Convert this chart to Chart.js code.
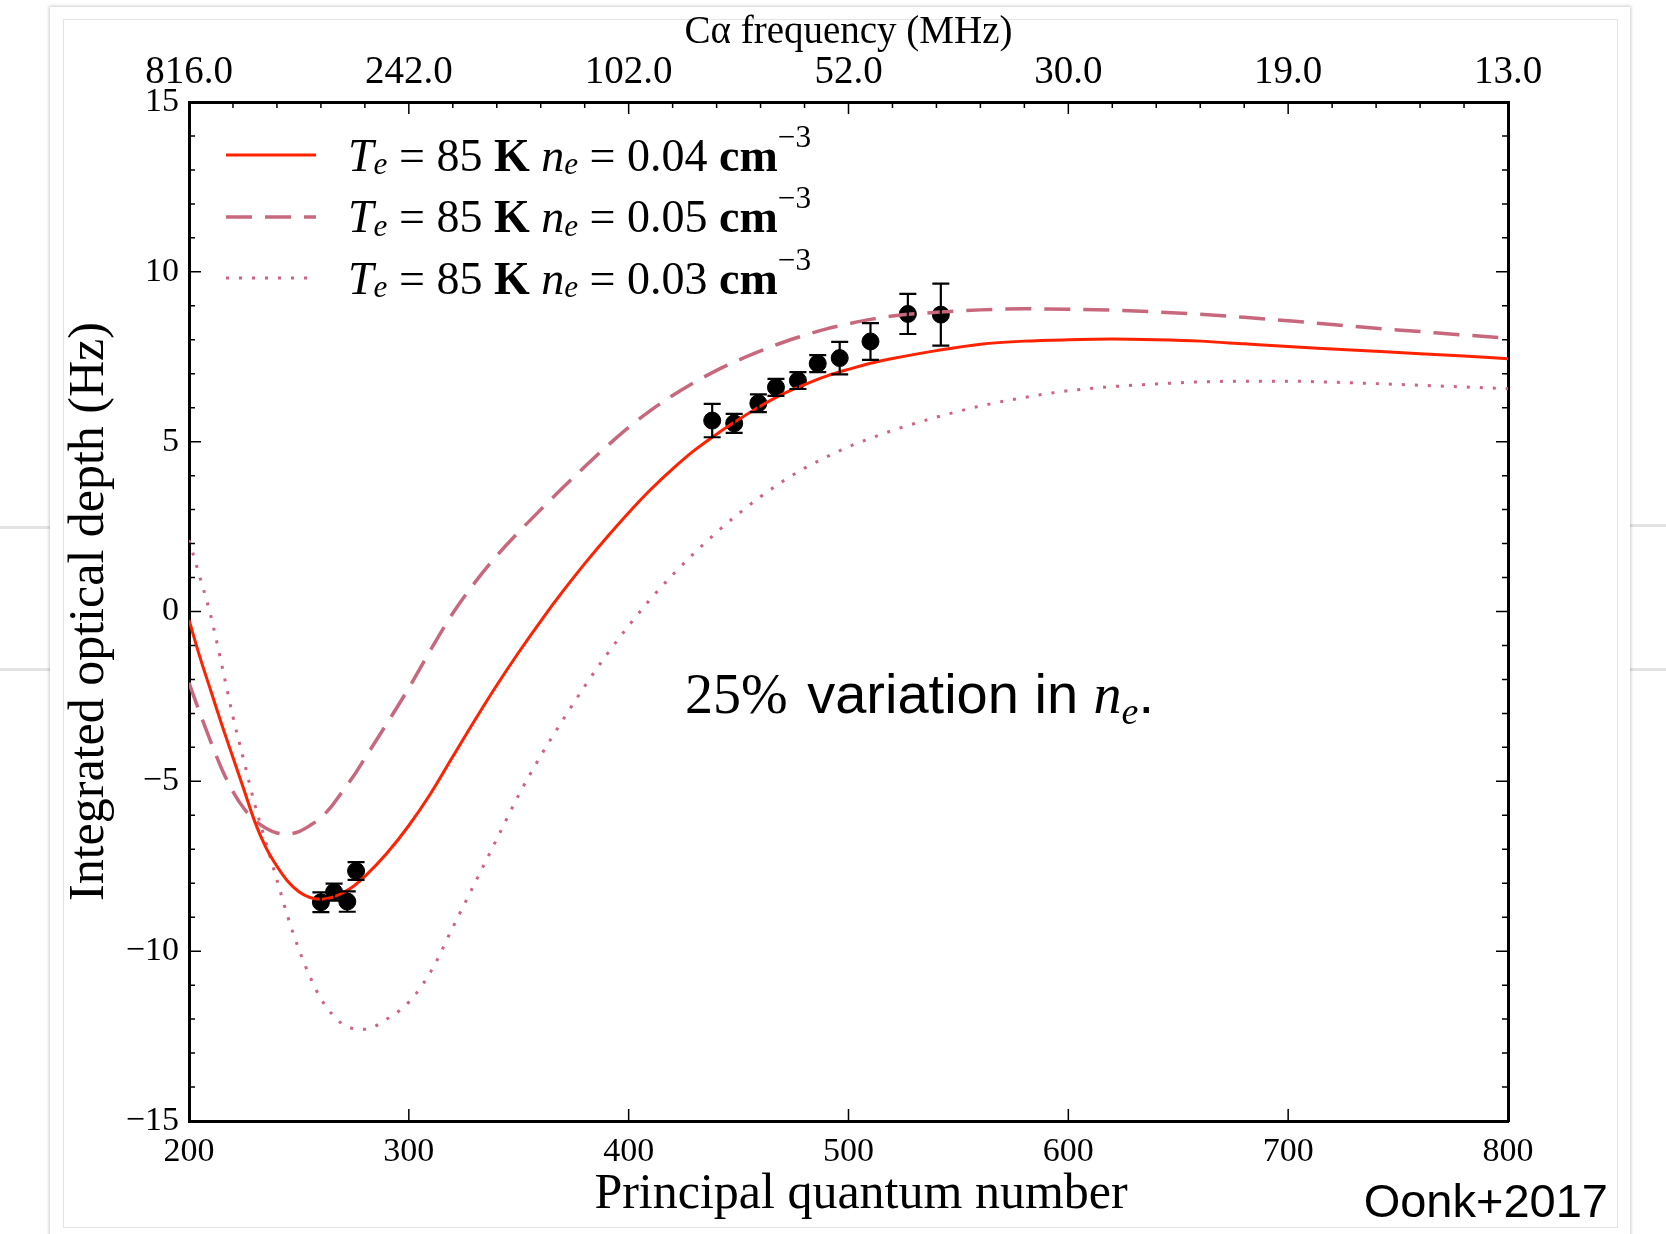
<!DOCTYPE html>
<html>
<head>
<meta charset="utf-8">
<title>Integrated optical depth vs principal quantum number</title>
<script src="https://cdn.jsdelivr.net/npm/chart.js@4.4.1/dist/chart.umd.min.js"></script>
<style>
  html, body { margin: 0; padding: 0; background: #fff; }
  body { position: relative; width: 1666px; height: 1234px; overflow: hidden; }
  .side-line { position: absolute; height: 3px; background: #e3e3e3; }
  #card { position: absolute; left: 50px; top: 7px; width: 1580px; height: 1260px; background: #fff;
          box-shadow: 0 0 3px 1px rgba(0, 0, 0, 0.2); }
  #inner { position: absolute; left: 13px; top: 12px; width: 1553px; height: 1207px; border: 1px solid #e4e4e4; }
  #chart { position: absolute; left: 0; top: 0; }
  .serif { font-family: "Liberation Serif", serif; }
  .legend-row { position: absolute; left: 226px; height: 60px; display: flex; align-items: center;
                font-family: "Liberation Serif", serif; font-size: 46px; color: #000; white-space: nowrap; }
  .legend-row svg { margin-right: 32px; }
  sub, sup { font-size: 0.68em; line-height: 0; position: relative; vertical-align: baseline; }
  sub { top: 0.3em; }
  sup { top: -0.58em; }
  #note { position: absolute; left: 685px; top: 661px; font-family: "Liberation Sans", sans-serif;
          font-size: 56px; color: #000; white-space: nowrap; }
  #note .pct { margin-right: 4px; }
  #credit { position: absolute; right: 58px; top: 1173px; font-family: "Liberation Sans", sans-serif;
            font-size: 47px; color: #000; white-space: nowrap; }
</style>
</head>
<body>
<div class="side-line" style="left:0;top:526px;width:50px"></div>
<div class="side-line" style="left:0;top:668px;width:50px"></div>
<div class="side-line" style="left:1630px;top:524px;width:36px"></div>
<div class="side-line" style="left:1630px;top:668px;width:36px"></div>
<div id="card"><div id="inner"></div></div>
<canvas id="chart" width="1666" height="1234"></canvas>
<div id="legend"></div>
<div id="note"><span class="serif pct">25%</span> variation in <i class="serif">n</i><sub class="serif"><i>e</i></sub>.</div>
<div id="credit">Oonk+2017</div>
<script>
// model curves, sampled along principal quantum number
const nModel = [200, 205, 210, 215, 220, 225, 230, 235, 240, 245, 250, 255, 260, 265, 270, 275, 280,
  290, 300, 310, 320, 330, 340, 350, 360, 370, 380, 390, 400, 410, 420, 430, 440, 450, 460, 470, 480, 490, 500, 510, 520,
  540, 560, 580, 600, 620, 640, 660, 680, 700, 720, 740, 760, 780, 800];
const tauNe04 = [-0.25, -1.35, -2.35, -3.35, -4.3, -5.25, -6.2, -6.95, -7.5, -7.95, -8.25, -8.42, -8.47, -8.42, -8.28, -8.08, -7.8,
  -7.12, -6.3, -5.35, -4.27, -3.2, -2.17, -1.2, -0.28, 0.59, 1.41, 2.18, 2.91, 3.59, 4.2, 4.75, 5.22, 5.65, 6.05, 6.4, 6.68, 6.93, 7.13, 7.31, 7.45,
  7.68, 7.87, 7.96, 8.0, 8.02, 8.0, 7.96, 7.88, 7.8, 7.73, 7.66, 7.59, 7.52, 7.44];
const tauNe05 = [-2.1, -3.0, -3.85, -4.65, -5.3, -5.8, -6.15, -6.38, -6.52, -6.55, -6.48, -6.3, -6.07, -5.72, -5.28, -4.83, -4.32,
  -3.3, -2.25, -1.12, -0.05, 0.85, 1.64, 2.34, 3.0, 3.64, 4.26, 4.86, 5.42, 5.92, 6.36, 6.75, 7.1, 7.4, 7.67, 7.92, 8.13, 8.32, 8.47, 8.6, 8.7,
  8.81, 8.88, 8.91, 8.9, 8.87, 8.82, 8.75, 8.66, 8.56, 8.45, 8.34, 8.24, 8.14, 8.05];
const tauNe03 = [2.1, 1.0, -0.15, -1.6, -3.1, -4.4, -5.7, -6.8, -7.9, -9.0, -9.95, -10.75, -11.4, -11.85, -12.15, -12.28, -12.3,
  -12.0, -11.5, -10.6, -9.3, -8.0, -6.7, -5.4, -4.25, -3.2, -2.2, -1.27, -0.42, 0.37, 1.08, 1.73, 2.33, 2.88, 3.38, 3.83, 4.22, 4.55, 4.85, 5.1, 5.33,
  5.72, 6.05, 6.3, 6.5, 6.62, 6.7, 6.76, 6.78, 6.78, 6.75, 6.71, 6.66, 6.61, 6.56];

// measured C-alpha lines
const obsN = [260, 266, 272, 276, 438, 448, 459, 467, 477, 486, 496, 510, 527, 542];
const obsTau = [-8.56, -8.26, -8.54, -7.64, 5.62, 5.54, 6.13, 6.6, 6.8, 7.3, 7.46, 7.95, 8.76, 8.74];
const obsErr = [0.29, 0.25, 0.3, 0.26, 0.49, 0.28, 0.26, 0.25, 0.25, 0.25, 0.48, 0.54, 0.59, 0.91];

const nTicks = [200, 300, 400, 500, 600, 700, 800];
const freqLabels = ['816.0', '242.0', '102.0', '52.0', '30.0', '19.0', '13.0'];
const tauTicks = [-15, -10, -5, 0, 5, 10, 15];
const densities = ['0.04', '0.05', '0.03'];

const serif = '"Liberation Serif", serif';
const curveStyles = [
  { color: '#ff2200', width: 3, dash: [] },
  { color: '#c8687d', width: 3.5, dash: [26, 13] },
  { color: '#d0627f', width: 3, dash: [3, 10] }
];

const toXY = (xs, ys) => xs.map((x, i) => ({ x, y: ys[i] }));
const fmtTau = v => (v < 0 ? '\u2212' + Math.abs(v) : String(v));

// legend rows (rich text, so done in html)
const legendEl = document.getElementById('legend');
densities.forEach((d, i) => {
  const s = curveStyles[i];
  const row = document.createElement('div');
  row.className = 'legend-row';
  row.style.top = (125 + i * 61.5) + 'px';
  row.innerHTML =
    `<svg width="90" height="12"><line x1="0" y1="6" x2="90" y2="6" stroke="${s.color}" stroke-width="${s.width}"` +
    ` stroke-dasharray="${s.dash.join(' ')}"/></svg>` +
    `<i>T</i><sub><i>e</i></sub>&nbsp;=&nbsp;85&nbsp;<b>K</b>&nbsp;<i>n</i><sub><i>e</i></sub>&nbsp;=&nbsp;${d}&nbsp;<b>cm</b><sup>\u22123</sup>`;
  legendEl.appendChild(row);
});

const errorBars = {
  id: 'errorBars',
  afterDatasetsDraw(chart) {
    const { ctx, scales: { x, y } } = chart;
    ctx.save();
    ctx.strokeStyle = '#000';
    ctx.lineWidth = 2.2;
    obsN.forEach((n, i) => {
      const px = x.getPixelForValue(n);
      const top = y.getPixelForValue(obsTau[i] + obsErr[i]);
      const bot = y.getPixelForValue(obsTau[i] - obsErr[i]);
      ctx.beginPath();
      ctx.moveTo(px, top); ctx.lineTo(px, bot);
      ctx.moveTo(px - 8.5, top); ctx.lineTo(px + 8.5, top);
      ctx.moveTo(px - 8.5, bot); ctx.lineTo(px + 8.5, bot);
      ctx.stroke();
    });
    ctx.restore();
  }
};

// inward tick marks on all four sides, like the matplotlib classic style
const innerTicks = {
  id: 'innerTicks',
  afterDraw(chart) {
    const { ctx, chartArea: a, scales: { x, y } } = chart;
    ctx.save();
    ctx.strokeStyle = '#000';
    ctx.lineWidth = 1.5;
    ctx.beginPath();
    for (let v = -15; v <= 15; v++) {
      const py = y.getPixelForValue(v);
      const len = v % 5 === 0 ? 12 : 6;
      ctx.moveTo(a.left, py); ctx.lineTo(a.left + len, py);
      ctx.moveTo(a.right, py); ctx.lineTo(a.right - len, py);
    }
    for (let n = 200; n <= 800; n += 20) {
      const px = x.getPixelForValue(n);
      const major = n % 100 === 0;
      if (major) { ctx.moveTo(px, a.bottom); ctx.lineTo(px, a.bottom - 12); }
      ctx.moveTo(px, a.top); ctx.lineTo(px, a.top + (major ? 12 : 6));
    }
    ctx.stroke();
    ctx.restore();
  }
};

const curve = (data, s) => ({
  data, showLine: true, pointRadius: 0, fill: false,
  borderColor: s.color, borderWidth: s.width, borderDash: s.dash,
  cubicInterpolationMode: 'monotone'
});

const axisBase = {
  type: 'linear',
  grid: { display: false },
  border: { display: true, color: '#000', width: 3 }
};

new Chart(document.getElementById('chart'), {
  type: 'scatter',
  data: {
    datasets: [
      curve(toXY(nModel, tauNe04), curveStyles[0]),
      curve(toXY(nModel, tauNe05), curveStyles[1]),
      curve(toXY(nModel, tauNe03), curveStyles[2]),
      { data: toXY(obsN, obsTau), pointRadius: 8.5, pointBackgroundColor: '#000', pointBorderColor: '#000', showLine: false }
    ]
  },
  options: {
    responsive: false,
    animation: false,
    layout: { padding: 0 },
    plugins: { legend: { display: false }, tooltip: { enabled: false } },
    scales: {
      x: {
        ...axisBase, position: 'bottom', min: 200, max: 800,
        afterBuildTicks: s => { s.ticks = nTicks.map(v => ({ value: v })); },
        ticks: { color: '#000', font: { family: serif, size: 34 }, padding: 3, maxRotation: 0, autoSkip: false },
        // leading en space nudges the centred title right, as in the original
        title: { display: true, text: '\u2002Principal quantum number', color: '#000',
                 font: { family: serif, size: 50 }, padding: { top: 0, bottom: 9 } },
        afterFit: s => { s.height = 113; }
      },
      x2: {
        ...axisBase, position: 'top', min: 200, max: 800,
        afterBuildTicks: s => { s.ticks = nTicks.map(v => ({ value: v })); },
        ticks: { color: '#000', font: { family: serif, size: 39 }, padding: -2, maxRotation: 0, autoSkip: false,
                 callback: (v, i) => freqLabels[i] },
        title: { display: true, text: 'C\u03b1 frequency (MHz)', color: '#000',
                 font: { family: serif, size: 39 }, padding: { top: 9, bottom: 0 } },
        afterFit: s => { s.height = 102; }
      },
      y: {
        ...axisBase, position: 'left', min: -15, max: 15,
        afterBuildTicks: s => { s.ticks = tauTicks.map(v => ({ value: v })); },
        ticks: { color: '#000', font: { family: serif, size: 34 }, padding: 2, callback: fmtTau },
        title: { display: true, text: 'Integrated optical depth (Hz)', color: '#000',
                 font: { family: serif, size: 50 }, padding: { top: 60, bottom: 0 } },
        afterFit: s => { s.width = 189; }
      },
      yR: {
        ...axisBase, position: 'right', min: -15, max: 15,
        ticks: { display: false },
        afterFit: s => { s.width = 158; }
      }
    }
  },
  plugins: [errorBars, innerTicks]
});
</script>
</body>
</html>
